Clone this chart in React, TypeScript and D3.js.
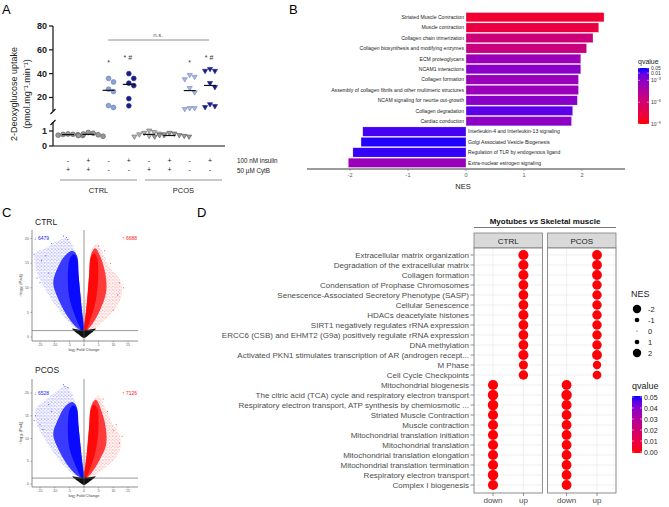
import React from "react";
import * as d3 from "d3";

const FONT = "'Liberation Sans', Arial, Helvetica, sans-serif";

// ---------------- Panel A data ----------------
const aInsulin = ["-", "+", "-", "+", "-", "+", "-", "+"];
const aCytB = ["+", "+", "-", "-", "+", "+", "-", "-"];
const aGroups = ["CTRL", "PCOS"];
const aCtrlCytB = [0.78, 0.72, 0.8, 0.75, 0.7, 0.77];
const aCtrlInsCytB = [0.85, 0.7, 0.9, 0.75, 0.65, 0.8];
const aCtrlBasal = [36, 33, 25, 27, 11.6, 13.2];
const aCtrlIns = [40, 36, 30, 32, 19, 13];
const aPcosCytB = [1.0, 0.85, 0.75, 0.65, 0.6, 0.7, 0.8, 0.9];
const aPcosInsCytB = [0.75, 0.7, 0.6, 0.65, 0.8, 0.85, 0.7, 0.6];
const aPcosBasal = [38.6, 37, 35, 27.6, 24, 10, 10.7, 10.7];
const aPcosIns = [42, 42, 43.6, 31.8, 28.4, 11.6, 14, 12.4];
const aUpperTicks = [20, 40, 60, 80];
const aLowerTicks = [0, 1];

// ---------------- Panel B data ----------------
const bPathways = [
  "Striated Muscle Contraction",
  "Muscle contraction",
  "Collagen chain trimerization",
  "Collagen biosynthesis and modifying enzymes",
  "ECM proteoglycans",
  "NCAM1 interactions",
  "Collagen formation",
  "Assembly of collagen fibrils and other multimeric structures",
  "NCAM signaling for neurite out-growth",
  "Collagen degradation",
  "Cardiac conduction",
  "Interleukin-4 and Interleukin-13 signaling",
  "Golgi Associated Vesicle Biogenesis",
  "Regulation of TLR by endogenous ligand",
  "Extra-nuclear estrogen signaling",
];
const bNES = [2.38, 2.29, 2.19, 2.08, 1.98, 1.98, 1.94, 1.94, 1.92, 1.84, 1.82, -1.78, -1.81, -1.95, -2.03];
const bQ = [1e-8, 3e-8, 2e-6, 3e-6, 3e-4, 1e-3, 3e-4, 3e-4, 1e-3, 0.01, 8e-4, 0.02, 0.04, 0.03, 3e-4];
const bTicks = [-2, -1, 0, 1, 2];
const bLegendTicks = [0.05, 0.01, 1e-3, 1e-6, 1e-9];

// ---------------- Panel C data (density outlines, log2FC / -log10 padj) ----------------
const cCtrlBlueSparse = [[-0.3, 1.3], [-2, 13], [-3, 17.5], [-6, 20], [-9, 19.5], [-13, 18], [-16.5, 17], [-16.5, 14], [-14, 10.5], [-11, 7.5], [-8, 5], [-5, 3], [-2.5, 1.6]];
const cCtrlBlueMid = [[-0.2, 1.3], [-1, 7], [-1.8, 12], [-2.4, 16.5], [-4, 17.5], [-6.5, 16.5], [-9, 14], [-10.5, 11], [-9, 8], [-6, 4.5], [-3, 2.2], [-0.8, 1.3]];
const cCtrlBlueCore = [[-0.2, 1.3], [-0.7, 5], [-1.3, 9], [-1.9, 13], [-2.4, 16], [-3.5, 16.8], [-4.8, 16], [-5.5, 12], [-5, 8], [-3.5, 5], [-1.8, 2.5], [-0.7, 1.3]];
const cCtrlRedSparse = [[0.3, 1.3], [1.8, 13], [2.8, 18], [4.5, 19], [6.5, 17], [9, 14], [12, 12], [13, 9], [11, 6], [7, 3.5], [3, 1.6]];
const cCtrlRedMid = [[0.2, 1.3], [1, 7], [1.7, 12], [2.3, 16.5], [3.8, 18], [5.8, 16], [7.5, 12], [7.5, 9], [5.5, 5.5], [3, 2.8], [0.8, 1.3]];
const cCtrlRedCore = [[0.2, 1.3], [0.7, 5], [1.3, 9], [1.8, 13], [2.3, 16], [3.3, 17], [4.5, 16], [4.8, 12], [4.2, 8], [3, 5], [1.5, 2.5], [0.7, 1.3]];
const cCtrlBlueOut = [[-16, 12], [-14.5, 15.5], [-13, 16.5], [-11, 19], [-7, 20.5], [-6, 20.2], [-5.5, 19.8], [-15, 11], [-12, 13], [-17, 16.8]];
const cCtrlRedOut = [[12, 11], [11.5, 8.5], [9, 15], [7, 17.5], [5, 18.5], [13.5, 10], [10, 5.5]];
const cPcosBlueSparse = [[-0.3, 1.3], [-2, 13], [-3, 18], [-6, 21.5], [-9, 20.5], [-13, 18.5], [-16.5, 16.5], [-16, 13], [-13.5, 10], [-10.5, 7], [-7.5, 4.5], [-4.5, 2.6], [-2.5, 1.6]];
const cPcosBlueMid = [[-0.2, 1.3], [-1, 7], [-1.8, 12], [-2.5, 17], [-4, 18], [-6.5, 17], [-9, 14], [-10.5, 11], [-9, 8], [-6, 4.5], [-3, 2.2], [-0.8, 1.3]];
const cPcosBlueCore = [[-0.2, 1.3], [-0.7, 5], [-1.3, 9], [-1.9, 13], [-2.5, 16.5], [-3.5, 17.3], [-4.8, 16.5], [-5.5, 12], [-5, 8], [-3.5, 5], [-1.8, 2.5], [-0.7, 1.3]];
const cPcosRedSparse = [[0.3, 1.3], [1.8, 13], [2.8, 18], [5, 19.5], [7, 17], [9.5, 13.5], [12, 11], [12.5, 8], [10.5, 5.5], [7, 3.5], [3, 1.6]];
const cPcosRedMid = [[0.2, 1.3], [1, 7], [1.7, 12], [2.4, 17], [4, 18.5], [6, 16], [7.5, 12], [7.5, 8.5], [5.5, 5.5], [3, 2.8], [0.8, 1.3]];
const cPcosRedCore = [[0.2, 1.3], [0.7, 5], [1.3, 9], [1.8, 13], [2.4, 16.5], [3.4, 17.5], [4.6, 16.5], [4.9, 12], [4.2, 8], [3, 5], [1.5, 2.5], [0.7, 1.3]];
const cPcosBlueOut = [[-16.5, 15], [-15, 13], [-12, 17.5], [-7, 21.8], [-6.5, 21.5], [-5.5, 21.2], [-14, 12], [-11, 16], [-17, 14]];
const cPcosRedOut = [[10, 11.7], [12, 9], [11, 13], [6.5, 18.7], [8, 16], [13, 10.5]];
const cBlack = [[-4, 1.7], [-2, 1.5], [0, 1.4], [2, 1.5], [4, 1.7], [2, 0.6], [0, -0.2], [-2, 0.6]];
const cXTicks = [-15, -10, -5, 0, 5, 10, 15];
const cYTicks = [0, 5, 10, 15, 20];

// ---------------- Panel D data ----------------
const dPathways = [
  "Extracellular matrix organization",
  "Degradation of the extracellular matrix",
  "Collagen formation",
  "Condensation of Prophase Chromosomes",
  "Senescence-Associated Secretory Phenotype (SASP)",
  "Cellular Senescence",
  "HDACs deacetylate histones",
  "SIRT1 negatively regulates rRNA expression",
  "ERCC6 (CSB) and EHMT2 (G9a) positively regulate rRNA expression",
  "DNA methylation",
  "Activated PKN1 stimulates transcription of AR (androgen recept...",
  "M Phase",
  "Cell Cycle Checkpoints",
  "Mitochondrial biogenesis",
  "The citric acid (TCA) cycle and respiratory electron transport",
  "Respiratory electron transport, ATP synthesis by chemiosmotic ...",
  "Striated Muscle Contraction",
  "Muscle contraction",
  "Mitochondrial translation initiation",
  "Mitochondrial translation",
  "Mitochondrial translation elongation",
  "Mitochondrial translation termination",
  "Respiratory electron transport",
  "Complex I biogenesis",
];
const dDirection = ["up", "up", "up", "up", "up", "up", "up", "up", "up", "up", "up", "up", "up", "down", "down", "down", "down", "down", "down", "down", "down", "down", "down", "down"];
const dNesCtrl = [2.5, 2.5, 2.5, 2.4, 2.4, 2.4, 2.5, 2.4, 2.4, 2.4, 2.5, 2.2, 2.3, -2.5, -2.6, -2.6, -2.5, -2.5, -2.5, -2.5, -2.5, -2.5, -2.6, -2.5];
const dNesPcos = [2.4, 2.4, 2.4, 2.3, 2.3, 2.3, 2.3, 2.3, 2.3, 2.3, 2.4, 2.0, 2.1, -2.4, -2.6, -2.5, -2.4, -2.4, -2.4, -2.4, -2.4, -2.4, -2.4, -2.4];
const dQCtrl = [0.0005, 0.0005, 0.0005, 0.0005, 0.0005, 0.0005, 0.0005, 0.0005, 0.0005, 0.0005, 0.0005, 0.0005, 0.0005, 0.0005, 0.0005, 0.0005, 0.0005, 0.0005, 0.0005, 0.0005, 0.0005, 0.0005, 0.0005, 0.0005];
const dQPcos = [0.0005, 0.0005, 0.0005, 0.0005, 0.0005, 0.0005, 0.0005, 0.0005, 0.0005, 0.0005, 0.0005, 0.0005, 0.0005, 0.0005, 0.0005, 0.0005, 0.0005, 0.0005, 0.0005, 0.0005, 0.0005, 0.0005, 0.0005, 0.0005];
const dFacets = ["CTRL", "PCOS"];
const dCols = ["down", "up"];
const dNesLegend = [-2, -1, 0, 1, 2];
const dQLegend = [0.05, 0.04, 0.03, 0.02, 0.01, 0.0];

// ================= helpers =================
function swarm(vals: number[], ys: (v: number) => number, r: number) {
  const placed: { v: number; dx: number; y: number }[] = [];
  const order = vals.map((v) => ({ v, y: ys(v) })).sort((a, b) => a.y - b.y);
  order.forEach((p) => {
    const cands = [0, 1, -1, 2, -2, 3, -3, 4, -4].map((k) => k * r * 2.05);
    for (const dx of cands) {
      if (placed.every((q) => Math.hypot(q.dx - dx, q.y - p.y) >= r * 2)) {
        placed.push({ v: p.v, dx, y: p.y });
        break;
      }
    }
  });
  return placed;
}

const triPath = (cx: number, cy: number, s: number) =>
  `M${cx - s},${cy - s * 0.75}L${cx + s},${cy - s * 0.75}L${cx},${cy + s * 0.95}Z`;

// ================= Panel A =================
function PanelA() {
  const yU = d3.scaleLinear().domain([10, 80]).range([109.4, 26]);
  const yL = d3.scaleLinear().domain([0, 1]).range([146, 131]);
  const xA = d3.scalePoint<number>().domain(d3.range(8)).range([68, 210]);
  const light = "#8da3d6";
  const navy = "#1a1f87";
  const gray = "#9a9a9a";
  const series = [
    { vals: aCtrlCytB, low: true, shape: "c", fill: gray, stroke: "#555" },
    { vals: aCtrlInsCytB, low: true, shape: "c", fill: gray, stroke: "#555" },
    { vals: aCtrlBasal, low: false, shape: "c", fill: light, stroke: "#5d77b5" },
    { vals: aCtrlIns, low: false, shape: "c", fill: navy, stroke: navy },
    { vals: aPcosCytB, low: true, shape: "t", fill: "#b5b5b5", stroke: "#666" },
    { vals: aPcosInsCytB, low: true, shape: "t", fill: gray, stroke: "#555" },
    { vals: aPcosBasal, low: false, shape: "t", fill: "#a9b9e2", stroke: "#6f86c0" },
    { vals: aPcosIns, low: false, shape: "t", fill: navy, stroke: navy },
  ];
  const r = 2.4;
  return (
    <g fontFamily={FONT}>
      <text x={2} y={14} fontSize={13}>A</text>
      <text transform="translate(17,94) rotate(-90)" textAnchor="middle" fontSize={9} fill="#222">2-Deoxyglucose uptake</text>
      <text transform="translate(30,94) rotate(-90)" textAnchor="middle" fontSize={9} fill="#222">(pmol.mg⁻¹.min⁻¹)</text>
      <line x1={53} x2={53} y1={yU(80)} y2={111} stroke="#111" strokeWidth={1.2} />
      <path d="M50.5,114 L55.5,109" stroke="#111" strokeWidth={1.2} fill="none" />
      <path d="M50.5,125 L55.5,120" stroke="#111" strokeWidth={1.2} fill="none" />
      <line x1={53} x2={53} y1={122} y2={yL(0)} stroke="#111" strokeWidth={1.2} />
      {aUpperTicks.map((t) => (
        <g key={t}>
          <line x1={49} x2={53} y1={yU(t)} y2={yU(t)} stroke="#111" strokeWidth={1.2} />
          <text x={47} y={yU(t) + 3} textAnchor="end" fontSize={9} fontWeight="bold" fill="#222">{t}</text>
        </g>
      ))}
      {aLowerTicks.map((t) => (
        <g key={t}>
          <line x1={49} x2={53} y1={yL(t)} y2={yL(t)} stroke="#111" strokeWidth={1.2} />
          <text x={47} y={yL(t) + 3} textAnchor="end" fontSize={9} fontWeight="bold" fill="#222">{t}</text>
        </g>
      ))}
      <line x1={53} x2={225} y1={yL(0)} y2={yL(0)} stroke="#111" strokeWidth={1.2} />
      {series.map((s, i) => {
        const ys = s.low ? yL : yU;
        const pts = swarm(s.vals, ys, r);
        const cx = xA(i)!;
        const med = d3.median(s.vals)!;
        return (
          <g key={i}>
            {pts.map((p, j) =>
              s.shape === "c" ? (
                <circle key={j} cx={cx + p.dx} cy={p.y} r={r} fill={s.fill} stroke={s.stroke} strokeWidth={0.6} />
              ) : (
                <path key={j} d={triPath(cx + p.dx, p.y, 2.6)} fill={s.fill} stroke={s.stroke} strokeWidth={0.6} />
              )
            )}
            <line x1={cx - 6} x2={cx + 6} y1={ys(med)} y2={ys(med)} stroke="#111" strokeWidth={1.2} />
          </g>
        );
      })}
      <line x1={108} x2={209} y1={40} y2={40} stroke="#777" strokeWidth={0.8} />
      <text x={158} y={37} textAnchor="middle" fontSize={6} fill="#555">n.s.</text>
      {[2, 6].map((i) => (
        <text key={i} x={xA(i)!} y={65} textAnchor="middle" fontSize={7} fill="#333">*</text>
      ))}
      {[3, 7].map((i) => (
        <text key={i} x={xA(i)! - 1} y={60} textAnchor="middle" fontSize={7} fill="#333">* #</text>
      ))}
      {aInsulin.map((s, i) => (
        <text key={"i" + i} x={xA(i)!} y={163} textAnchor="middle" fontSize={7} fill="#222">{s}</text>
      ))}
      {aCytB.map((s, i) => (
        <text key={"c" + i} x={xA(i)!} y={172} textAnchor="middle" fontSize={7} fill="#222">{s}</text>
      ))}
      <text x={237} y={163} fontSize={6.3} fill="#222">100 nM insulin</text>
      <text x={237} y={172.5} fontSize={6.3} fill="#222">50 µM CytB</text>
      {aGroups.map((g, gi) => {
        const x1 = gi === 0 ? 60 : 145;
        const x2 = gi === 0 ? 137 : 222;
        return (
          <g key={g}>
            <line x1={x1} x2={x2} y1={180} y2={180} stroke="#777" strokeWidth={0.8} />
            <text x={(x1 + x2) / 2} y={193} textAnchor="middle" fontSize={7.5} fill="#222">{g}</text>
          </g>
        );
      })}
    </g>
  );
}

// ================= Panel B =================
const qLogColor = (q: number) => {
  const t = (Math.log10(q) + 9) / (Math.log10(0.05) + 9);
  return d3.interpolateLab("#ff0000", "#0000ff")(Math.max(0, Math.min(1, t)));
};

function PanelB() {
  const xB = d3.scaleLinear().domain([-2, 2]).range([350, 582]);
  const yB = d3.scaleBand<string>().domain(bPathways).range([12, 168]).paddingInner(0.1).paddingOuter(0.05);
  const legY = d3.scaleLinear().domain([Math.log10(0.05), -9]).range([68, 124]);
  const stops = d3.range(0, 11).map((k) => {
    const lq = Math.log10(0.05) + (k / 10) * (-9 - Math.log10(0.05));
    return { off: k / 10, col: qLogColor(Math.pow(10, lq)) };
  });
  return (
    <g fontFamily={FONT}>
      <defs>
        <linearGradient id="bGrad" x1="0" x2="0" y1="0" y2="1">
          {stops.map((s, i) => (
            <stop key={i} offset={s.off} stopColor={s.col} />
          ))}
        </linearGradient>
      </defs>
      <text x={289} y={14} fontSize={13}>B</text>
      {bPathways.map((p, i) => {
        const v = bNES[i];
        const y0 = yB(p)!;
        const x0 = Math.min(xB(0), xB(v));
        const w = Math.abs(xB(v) - xB(0));
        return (
          <g key={p}>
            <rect x={x0} y={y0} width={w} height={yB.bandwidth()} fill={qLogColor(bQ[i])} stroke="#fff" strokeWidth={0.3} />
            <text
              x={v > 0 ? xB(0) - 2 : xB(0) + 2}
              y={y0 + yB.bandwidth() / 2 + 1.8}
              textAnchor={v > 0 ? "end" : "start"}
              fontSize={5.1}
              fill="#222"
            >
              {p}
            </text>
          </g>
        );
      })}
      <line x1={307} x2={625} y1={169} y2={169} stroke="#222" strokeWidth={0.9} />
      {bTicks.map((t) => (
        <g key={t}>
          <line x1={xB(t)} x2={xB(t)} y1={169} y2={171} stroke="#555" strokeWidth={0.5} />
          <text x={xB(t)} y={177} textAnchor="middle" fontSize={5.5} fill="#555">{t}</text>
        </g>
      ))}
      <text x={463} y={189} textAnchor="middle" fontSize={7.5} fill="#222">NES</text>
      <text x={638} y={64} fontSize={7} fill="#222">qvalue</text>
      <rect x={638} y={68} width={11} height={56} fill="url(#bGrad)" />
      {bLegendTicks.map((q) => {
        const y = legY(Math.log10(q));
        const isPow = q < 0.005;
        return (
          <g key={q}>
            <line x1={638} x2={640} y1={y} y2={y} stroke="#fff" strokeWidth={0.5} />
            <line x1={647} x2={649} y1={y} y2={y} stroke="#fff" strokeWidth={0.5} />
            <text x={651} y={y + 2} fontSize={5} fill="#333">
              {isPow ? (
                <>
                  10
                  <tspan dy={-2} fontSize={3.8}>{"−" + Math.round(-Math.log10(q))}</tspan>
                </>
              ) : (
                String(q)
              )}
            </text>
          </g>
        );
      })}
    </g>
  );
}

// ================= Panel C =================
function Volcano(props: {
  title: string;
  titleY: number;
  yTop: number;
  y0: number;
  y20: number;
  yBottom: number;
  down: string;
  up: string;
  blue: number[][][];
  red: number[][][];
  blueOut: number[][];
  redOut: number[][];
  id: string;
}) {
  const xs = d3.scaleLinear().domain([-15, 15]).range([40, 128]);
  const ys = d3.scaleLinear().domain([0, 20]).range([props.y0, props.y20]);
  const line = d3
    .line<number[]>()
    .x((d) => xs(d[0]))
    .y((d) => ys(d[1]))
    .curve(d3.curveCatmullRomClosed.alpha(0.5));
  const blueFills = [`url(#${props.id}bs)`, `url(#${props.id}bm)`, "#0a0aff"];
  const redFills = [`url(#${props.id}rs)`, `url(#${props.id}rm)`, "#ff0a0a"];
  return (
    <g fontFamily={FONT}>
      <defs>
        <pattern id={props.id + "bs"} width={3.4} height={3.4} patternUnits="userSpaceOnUse">
          <circle cx={0.8} cy={0.9} r={0.5} fill="#2020ff" />
          <circle cx={2.5} cy={2.3} r={0.45} fill="#3535ff" />
          <circle cx={2.6} cy={0.4} r={0.3} fill="#5050ff" />
        </pattern>
        <pattern id={props.id + "bm"} width={1.6} height={1.6} patternUnits="userSpaceOnUse">
          <rect width={1.6} height={1.6} fill="#3a3aff" opacity={0.85} />
          <circle cx={0.8} cy={0.8} r={0.55} fill="#0c0cff" />
        </pattern>
        <pattern id={props.id + "rs"} width={3.4} height={3.4} patternUnits="userSpaceOnUse">
          <circle cx={0.8} cy={0.9} r={0.5} fill="#ff2020" />
          <circle cx={2.5} cy={2.3} r={0.45} fill="#ff3535" />
          <circle cx={2.6} cy={0.4} r={0.3} fill="#ff5050" />
        </pattern>
        <pattern id={props.id + "rm"} width={1.6} height={1.6} patternUnits="userSpaceOnUse">
          <rect width={1.6} height={1.6} fill="#ff3a3a" opacity={0.85} />
          <circle cx={0.8} cy={0.8} r={0.55} fill="#ff0c0c" />
        </pattern>
      </defs>
      <text x={35} y={props.titleY} fontSize={8.5} fill="#222">{props.title}</text>
      {props.blue.map((poly, i) => (
        <path key={"b" + i} d={line(poly)!} fill={blueFills[i]} />
      ))}
      {props.red.map((poly, i) => (
        <path key={"r" + i} d={line(poly)!} fill={redFills[i]} />
      ))}
      {props.blueOut.map((p, i) => (
        <circle key={"bo" + i} cx={xs(p[0])} cy={ys(p[1])} r={0.5} fill="#2020ff" />
      ))}
      {props.redOut.map((p, i) => (
        <circle key={"ro" + i} cx={xs(p[0])} cy={ys(p[1])} r={0.5} fill="#ff2020" />
      ))}
      <path d={line(cBlack)!} fill="#111" />
      <line x1={32} x2={32} y1={props.yTop} y2={props.yBottom} stroke="#444" strokeWidth={0.6} />
      <line x1={32} x2={138} y1={props.yBottom} y2={props.yBottom} stroke="#444" strokeWidth={0.6} />
      <line x1={xs(0)} x2={xs(0)} y1={props.yTop} y2={props.yBottom} stroke="#555" strokeWidth={0.6} />
      <line x1={32} x2={138} y1={ys(1.3)} y2={ys(1.3)} stroke="#555" strokeWidth={0.6} />
      {cYTicks.map((t) => (
        <g key={t}>
          <line x1={30.5} x2={32} y1={ys(t)} y2={ys(t)} stroke="#444" strokeWidth={0.4} />
          <text x={29} y={ys(t) + 1.2} textAnchor="end" fontSize={3.5} fill="#555">{t}</text>
        </g>
      ))}
      {cXTicks.map((t) => (
        <g key={t}>
          <line x1={xs(t)} x2={xs(t)} y1={props.yBottom} y2={props.yBottom + 1.5} stroke="#444" strokeWidth={0.4} />
          <text x={xs(t)} y={props.yBottom + 5} textAnchor="middle" fontSize={3.5} fill="#555">{t}</text>
        </g>
      ))}
      <text x={84} y={props.yBottom + 10} textAnchor="middle" fontSize={4} fill="#444">
        log<tspan fontSize={3} dy={1}>2</tspan>
        <tspan dy={-1}> Fold Change</tspan>
      </text>
      <text transform={`translate(22,${(props.yTop + props.yBottom) / 2}) rotate(-90)`} textAnchor="middle" fontSize={4} fill="#444">
        −log<tspan fontSize={3} dy={1}>10</tspan>
        <tspan dy={-1}> (Padj)</tspan>
      </text>
      <text x={34} y={ys(20) + 1.5} fontSize={5} fill="#2020ff">↓ {props.down}</text>
      <text x={137} y={ys(20) + 1.5} textAnchor="end" fontSize={5} fill="#ff2020">↑ {props.up}</text>
    </g>
  );
}

function PanelC() {
  return (
    <g>
      <text x={2} y={217} fontSize={13} fontFamily={FONT}>C</text>
      <Volcano
        id="vc"
        title="CTRL"
        titleY={225}
        yTop={230}
        y0={337}
        y20={238.5}
        yBottom={341}
        down="6479"
        up="6688"
        blue={[cCtrlBlueSparse, cCtrlBlueMid, cCtrlBlueCore]}
        red={[cCtrlRedSparse, cCtrlRedMid, cCtrlRedCore]}
        blueOut={cCtrlBlueOut}
        redOut={cCtrlRedOut}
      />
      <Volcano
        id="vp"
        title="PCOS"
        titleY={373}
        yTop={379}
        y0={484}
        y20={393}
        yBottom={487}
        down="6528"
        up="7126"
        blue={[cPcosBlueSparse, cPcosBlueMid, cPcosBlueCore]}
        red={[cPcosRedSparse, cPcosRedMid, cPcosRedCore]}
        blueOut={cPcosBlueOut}
        redOut={cPcosRedOut}
      />
    </g>
  );
}

// ================= Panel D =================
function PanelD() {
  const yD = d3.scalePoint<string>().domain(dPathways).range([255, 485]);
  const facetX = d3.scaleBand<string>().domain(dFacets).range([474, 616]).paddingInner(0.07);
  const rScale = (nes: number) => 0.7 + 1.75 * Math.abs(nes);
  const qColor = d3.scaleLinear<string>().domain([0, 0.05]).range(["#ff0000", "#0000ff"]).interpolate(d3.interpolateLab);
  const top = 248;
  const bottom = 493;
  const legY = d3.scaleLinear().domain([0.05, 0]).range([397, 452]);
  const stops = d3.range(0, 11).map((k) => ({ off: k / 10, col: qColor(0.05 - (k / 10) * 0.05) }));
  return (
    <g fontFamily={FONT}>
      <defs>
        <linearGradient id="dGrad" x1="0" x2="0" y1="0" y2="1">
          {stops.map((s, i) => (
            <stop key={i} offset={s.off} stopColor={s.col} />
          ))}
        </linearGradient>
      </defs>
      <text x={197} y={217} fontSize={13}>D</text>
      <text x={545} y={224} textAnchor="middle" fontSize={8} fontWeight="bold" fill="#111">
        Myotubes <tspan fontStyle="italic">vs</tspan> Skeletal muscle
      </text>
      <line x1={474} x2={616} y1={227.5} y2={227.5} stroke="#555" strokeWidth={0.8} />
      {dPathways.map((p) => (
        <g key={p}>
          <text x={469} y={yD(p)! + 2.8} textAnchor="end" fontSize={8} fill="#4d4d4d">{p}</text>
          <line x1={470.5} x2={474} y1={yD(p)!} y2={yD(p)!} stroke="#4d4d4d" strokeWidth={0.6} />
        </g>
      ))}
      {dFacets.map((f, fi) => {
        const left = facetX(f)!;
        const w = facetX.bandwidth();
        const xc = d3.scalePoint<string>().domain(dCols).range([left + 19, left + w - 19]);
        const nes = fi === 0 ? dNesCtrl : dNesPcos;
        const qs = fi === 0 ? dQCtrl : dQPcos;
        return (
          <g key={f}>
            <rect x={left} y={233} width={w} height={15} fill="#d9d9d9" stroke="#7f7f7f" strokeWidth={0.8} />
            <text x={left + w / 2} y={243.5} textAnchor="middle" fontSize={8} fill="#1a1a1a">{f}</text>
            <rect x={left} y={top} width={w} height={bottom - top} fill="#fff" />
            {dPathways.map((p) => (
              <line key={p} x1={left} x2={left + w} y1={yD(p)!} y2={yD(p)!} stroke="#ebebeb" strokeWidth={0.8} />
            ))}
            {dCols.map((c) => (
              <line key={c} x1={xc(c)!} x2={xc(c)!} y1={top} y2={bottom} stroke="#ebebeb" strokeWidth={0.8} />
            ))}
            {dPathways.map((p, i) => (
              <circle key={p} cx={xc(dDirection[i])!} cy={yD(p)!} r={rScale(nes[i])} fill={qColor(qs[i])} />
            ))}
            <rect x={left} y={top} width={w} height={bottom - top} fill="none" stroke="#7f7f7f" strokeWidth={0.9} />
            {dCols.map((c) => (
              <g key={c}>
                <line x1={xc(c)!} x2={xc(c)!} y1={bottom} y2={bottom + 3} stroke="#4d4d4d" strokeWidth={0.6} />
                <text x={xc(c)!} y={bottom + 10} textAnchor="middle" fontSize={8} fill="#4d4d4d">{c}</text>
              </g>
            ))}
          </g>
        );
      })}
      <text x={631} y={297} fontSize={9} fill="#222">NES</text>
      {dNesLegend.map((n, i) => (
        <g key={n}>
          <circle cx={637} cy={309 + i * 11} r={Math.max(0.4, 0.5 + 1.85 * Math.abs(n))} fill="#000" />
          <text x={648} y={312 + i * 11} fontSize={7.5} fill="#222">{n}</text>
        </g>
      ))}
      <text x={632} y={389} fontSize={9} fill="#222">qvalue</text>
      <rect x={632} y={396} width={10} height={57} fill="url(#dGrad)" />
      {dQLegend.map((q) => (
        <g key={q}>
          <line x1={632} x2={634} y1={legY(q)} y2={legY(q)} stroke="#fff" strokeWidth={0.5} />
          <line x1={640} x2={642} y1={legY(q)} y2={legY(q)} stroke="#fff" strokeWidth={0.5} />
          <text x={644} y={legY(q) + 2.5} fontSize={7} fill="#222">{q.toFixed(2)}</text>
        </g>
      ))}
    </g>
  );
}

export default function App() {
  return (
    <svg
      width={669}
      height={507}
      viewBox="0 0 669 507"
      style={{ position: "absolute", left: 0, top: 0, background: "#fff" }}
    >
      <rect width={669} height={507} fill="#fff" />
      <PanelA />
      <PanelB />
      <PanelC />
      <PanelD />
    </svg>
  );
}
